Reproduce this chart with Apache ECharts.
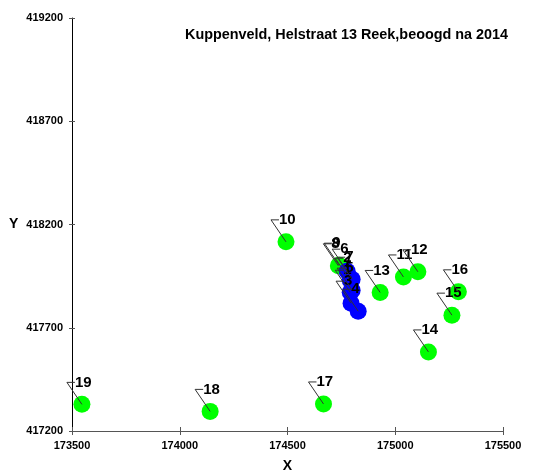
<!DOCTYPE html>
<html>
<head>
<meta charset="utf-8">
<script src="https://cdn.jsdelivr.net/npm/echarts@6/dist/echarts.min.js"></script>
<style>
html,body{margin:0;padding:0;background:#fff;}
#chart{width:539px;height:472px;}
</style>
</head>
<body>
<div id="chart"></div>
<script>
const titleText = 'Kuppenveld, Helstraat 13 Reek,beoogd na 2014';
const xTicks = [173500, 174000, 174500, 175000, 175500];
const yTicks = [417200, 417700, 418200, 418700, 419200];

const blueLabels = ['1', '2', '3', '4', '5', '6', '7'];
const blueX = [174791, 174791, 174795, 174828, 174800, 174777, 174800];
const blueY = [417872, 417930, 417819, 417780, 417882, 417974, 417935];

const greenLabels = ['8', '9', '10', '11', '12', '13', '14', '15', '16', '17', '18', '19'];
const greenX = [174736, 174740, 174493, 175038, 175105, 174930, 175154, 175263, 175293, 174667, 174141, 173546];
const greenY = [418000, 418003, 418116, 417946, 417971, 417871, 417583, 417761, 417874, 417331, 417295, 417329];

const FONT = '"Liberation Sans", Arial, sans-serif';

const blueData = blueX.map((x, i) => [x, blueY[i], blueLabels[i]]);
const greenData = greenX.map((x, i) => [x, greenY[i], greenLabels[i]]);
const allData = greenData.concat(blueData);

const chart = echarts.init(document.getElementById('chart'), null, {renderer: 'canvas'});

function renderLabel(params, api) {
  const p = api.coord([api.value(0), api.value(1)]);
  const lineStyle = {stroke: '#333', lineWidth: 1, fill: null};
  return {
    type: 'group',
    children: [
      {type: 'polyline', shape: {points: [[p[0], p[1]], [p[0] - 15, p[1] - 22], [p[0] - 7, p[1] - 22]]}, style: lineStyle},
      {type: 'text', x: p[0] - 7, y: p[1] - 22, style: {
        text: String(allData[params.dataIndex][2]), fill: '#000', font: 'bold 15px ' + FONT,
        textAlign: 'left', textVerticalAlign: 'middle'
      }}
    ]
  };
}

const option = {
  animation: false,
  backgroundColor: '#fff',
  title: {
    text: titleText, left: 185, top: 28, padding: 0,
    textStyle: {fontFamily: FONT, fontSize: 14.4, fontWeight: 'bold', color: '#000'}
  },
  grid: {left: 72, right: 36, top: 18, bottom: 41, containLabel: false, outerBoundsMode: 'none'},
  xAxis: [{
    type: 'value', min: 173500, max: 175500, interval: 500,
    name: 'X', nameLocation: 'middle', nameGap: 28,
    nameTextStyle: {fontFamily: FONT, fontSize: 14, fontWeight: 'bold', color: '#000'},
    axisLine: {show: true, lineStyle: {color: '#555', width: 1}},
    axisTick: {show: true, length: 4, lineStyle: {color: '#555'}},
    axisLabel: {fontFamily: FONT, fontSize: 11, fontWeight: 'bold', color: '#000', margin: 9,
      formatter: v => String(v)},
    splitLine: {show: false}
  }, {
    type: 'value', min: 173500, max: 175500, interval: 500, position: 'bottom',
    axisLine: {show: false}, axisTick: {show: true, inside: true, length: 4, lineStyle: {color: '#555'}},
    axisLabel: {show: false}, splitLine: {show: false}
  }],
  yAxis: [{
    type: 'value', min: 417200, max: 419200,
    axisLine: {show: true, lineStyle: {color: '#000', width: 1}},
    axisTick: {show: true, length: 3, lineStyle: {color: '#555'}, customValues: yTicks},
    axisLabel: {fontFamily: FONT, fontSize: 11, fontWeight: 'bold', color: '#000', margin: 9,
      customValues: yTicks, formatter: v => String(v)},
    splitLine: {show: false}
  }, {
    type: 'value', min: 417200, max: 419200, position: 'left',
    axisLine: {show: false},
    axisTick: {show: true, inside: true, length: 3, lineStyle: {color: '#555'}, customValues: yTicks},
    axisLabel: {show: false, customValues: yTicks}, splitLine: {show: false}
  }],
  graphic: [{
    type: 'text', left: 9, top: 217,
    style: {text: 'Y', font: 'bold 14px ' + FONT, fill: '#000'}
  }],
  series: [{
    type: 'scatter', data: greenData, symbol: 'circle', symbolSize: 17,
    itemStyle: {color: '#00ff00', opacity: 1}, z: 2
  }, {
    type: 'scatter', data: blueData, symbol: 'circle', symbolSize: 17,
    itemStyle: {color: '#0000ff', opacity: 1}, z: 3
  }, {
    type: 'custom', data: allData, renderItem: renderLabel, z: 4, silent: true
  }]
};
chart.setOption(option);
</script>
</body>
</html>
